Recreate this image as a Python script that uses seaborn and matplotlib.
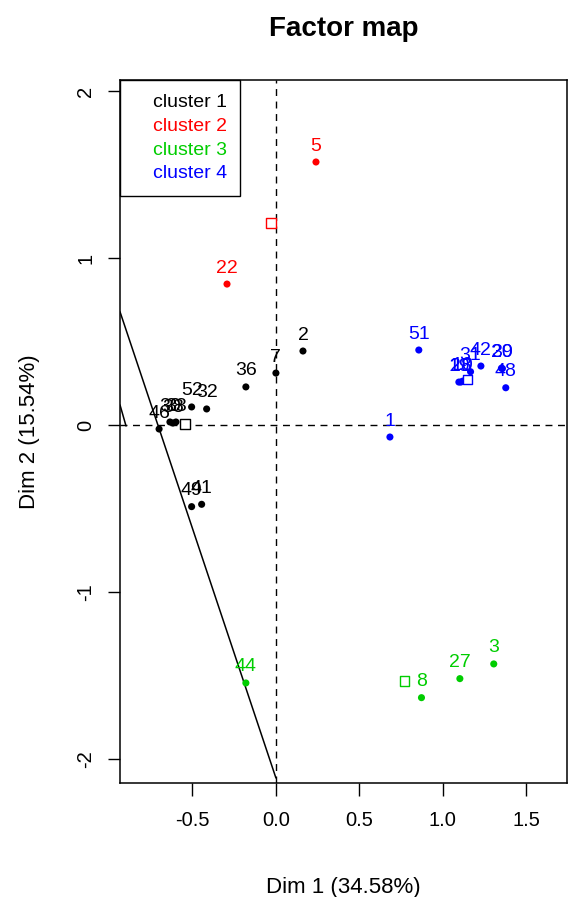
import matplotlib
matplotlib.use("Agg")
import matplotlib.pyplot as plt
from matplotlib.lines import Line2D
import seaborn as sns
import pandas as pd

# individuals on the factor map (Dim 1, Dim 2) and their cluster
labels = ["2", "7", "36", "52", "32", "46", "49", "41", "30", "38", "33",
          "5", "22",
          "44", "8", "27", "3",
          "51", "1", "19", "28", "10", "31", "42", "29", "30", "48"]
dim1 = [0.162, 0.0, -0.180, -0.505, -0.415, -0.700, -0.505, -0.445, -0.635, -0.617, -0.599,
        0.240, -0.293,
        -0.180, 0.872, 1.102, 1.305,
        0.856, 0.683, 1.096, 1.108, 1.120, 1.166, 1.228, 1.351, 1.357, 1.377]
dim2 = [0.443, 0.311, 0.228, 0.108, 0.096, -0.024, -0.489, -0.475, 0.018, 0.012, 0.018,
        1.575, 0.844,
        -1.545, -1.633, -1.519, -1.431,
        0.449, -0.072, 0.257, 0.257, 0.263, 0.319, 0.353, 0.340, 0.338, 0.223]
cluster = ["cluster 1"] * 11 + ["cluster 2"] * 2 + ["cluster 3"] * 4 + ["cluster 4"] * 10

# cluster centres
centre_names = ["cluster 1", "cluster 2", "cluster 3", "cluster 4"]
centre_x = [-0.545, -0.030, 0.772, 1.146]
centre_y = [0.006, 1.210, -1.533, 0.274]

# stray line segments seen on the plot
seg1_x = [-0.934, 0.0]
seg1_y = [0.678, -2.114]
seg2_x = [-0.934, -0.898]
seg2_y = [0.120, -0.006]

colours = {"cluster 1": "black", "cluster 2": "#FF0000",
           "cluster 3": "#00CD00", "cluster 4": "#0000FF"}

df = pd.DataFrame({"lab": labels, "x": dim1, "y": dim2, "cluster": cluster})

sns.set_style("ticks")
plt.rcParams["font.family"] = ["Liberation Sans", "DejaVu Sans"]
plt.rcParams["axes.unicode_minus"] = False
plt.rcParams["text.color"] = "black"
plt.rcParams["axes.labelcolor"] = "black"
plt.rcParams["xtick.color"] = "black"
plt.rcParams["ytick.color"] = "black"
plt.rcParams["axes.edgecolor"] = "black"

fig = plt.figure(figsize=(5.68, 8.97), dpi=100)
ax = fig.add_axes([0.2113, 0.1271, 0.7867, 0.7837])

ax.axhline(0, color="black", lw=1, ls=(0, (5, 4)))
ax.axvline(0, color="black", lw=1, ls=(0, (5, 4)))
ax.plot(seg1_x, seg1_y, color="black", lw=1.1)
ax.plot(seg2_x, seg2_y, color="black", lw=1.1)

sns.scatterplot(data=df, x="x", y="y", hue="cluster", palette=colours,
                s=26, edgecolor="none", legend=False, ax=ax, zorder=3)
for _, r in df.iterrows():
    ax.annotate(r["lab"], (r["x"], r["y"]), xytext=(0, 11.5), textcoords="offset points",
                ha="center", va="center", fontsize=14, color=colours[r["cluster"]])

ax.scatter(centre_x, centre_y, marker="s", s=45, facecolors="white",
           edgecolors=[colours[c] for c in centre_names], linewidths=1, zorder=3)

ax.set_xlim(-0.934, 1.743)
ax.set_ylim(-2.144, 2.066)
ax.set_xticks([-0.5, 0.0, 0.5, 1.0, 1.5])
ax.set_xticklabels(["-0.5", "0.0", "0.5", "1.0", "1.5"])
ax.set_yticks([-2, -1, 0, 1, 2])
ax.set_yticklabels(["-2", "-1", "0", "1", "2"], rotation=90, va="center")
ax.tick_params(labelsize=14.5, length=9, width=1)
ax.tick_params(axis="x", pad=11)
ax.tick_params(axis="y", pad=9)
for sp in ax.spines.values():
    sp.set_visible(True)
    sp.set_linewidth(1.1)

ax.set_xlabel("Dim 1 (34.58%)", fontsize=16, labelpad=34)
ax.set_ylabel("Dim 2 (15.54%)", fontsize=16, labelpad=26)
ax.set_title("Factor map", fontsize=20, fontweight="bold", pad=32)

handles = [Line2D([], [], linestyle="none") for _ in centre_names]
leg = ax.legend(handles, centre_names, loc="upper left", borderaxespad=0,
                fontsize=14, labelcolor=[colours[c] for c in centre_names],
                handlelength=0.6, handletextpad=0.4, labelspacing=0.32,
                borderpad=0.68, fancybox=False, framealpha=1, edgecolor="black")
leg.get_frame().set_linewidth(1)

fig.savefig("out.png", dpi=100)
